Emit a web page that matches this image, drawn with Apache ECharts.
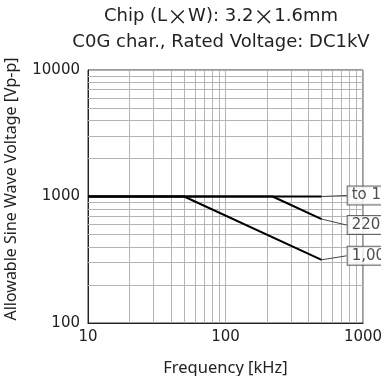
<!DOCTYPE html>
<html>
<head>
<meta charset="utf-8">
<script src="https://cdn.jsdelivr.net/npm/echarts@6/dist/echarts.min.js"></script>
<style>html,body{margin:0;padding:0;background:#fff}#c{width:381px;height:376px}</style>
</head>
<body>
<div id="c"></div>
<script>
// Data
const seriesNames = ['to 100pF', '220pF', '1,000pF'];
const s100pF = [[10, 1000], [500, 1000]];
const s220pF = [[10, 1000], [220, 1000], [500, 663]];
const s1000pF = [[10, 1000], [50, 1000], [500, 316]];
const labelShift = [-1, 6, -4];
const xMinorGrid = [20, 30, 40, 50, 60, 70, 80, 90, 200, 300, 400, 500, 600, 700, 800, 900];
const yMinorGrid = [200, 300, 400, 500, 600, 700, 800, 900, 2000, 3000, 4000, 5000, 6000, 7000, 8000, 9000];

const FONT = '"Noto Sans", sans-serif';
const WFONT = '"DejaVu Sans", sans-serif';
const CJK = '"Noto Sans CJK JP", sans-serif';
const gridColor = '#b4b4b4';
const allData = [s100pF, s220pF, s1000pF];

const series = allData.map((data, idx) => ({
  name: seriesNames[idx], type: 'line', data: data, symbol: 'none', showSymbol: false,
  lineStyle: { color: '#000', width: 2 }, z: 5, animation: false, silent: true
}));

// callout labels at the end of each curve
allData.forEach((data, idx) => {
  series.push({
    type: 'scatter', symbolSize: 0.1, z: 8, silent: true, animation: false,
    data: [data[data.length - 1]],
    label: {
      show: true, formatter: seriesNames[idx], position: 'right', distance: 0,
      fontFamily: WFONT, fontSize: 15, color: '#222',
      backgroundColor: '#fff', borderColor: '#444', borderWidth: 1,
      padding: [2, 4, 1, 4]
    },
    labelLayout: { dx: 26, dy: labelShift[idx] },
    labelLine: { show: true, lineStyle: { color: '#444', width: 1 } }
  });
});

series.push({
  type: 'line', data: [], silent: true, z: 1,
  markLine: {
    silent: true, symbol: 'none', animation: false,
    label: { show: false },
    lineStyle: { color: gridColor, width: 1, type: 'solid' },
    data: xMinorGrid.map(v => ({ xAxis: v })).concat(yMinorGrid.map(v => ({ yAxis: v })))
  }
});

const chart = echarts.init(document.getElementById('c'), null, { renderer: 'canvas' });
chart.setOption({
  animation: false,
  title: {
    text: 'Chip (L{x|×}W): 3.2{x|×}1.6mm\nC0G char., Rated Voltage: DC1kV',
    left: 216, textAlign: 'center', top: -2,
    textStyle: {
      fontFamily: WFONT, fontSize: 18, fontWeight: 'normal', color: '#222', lineHeight: 26,
      rich: { x: { fontFamily: CJK, fontSize: 21, color: '#222', lineHeight: 26 } }
    }
  },
  grid: { left: 88, right: 18, top: 70, bottom: 53, show: true, borderColor: '#333', borderWidth: 1,
          containLabel: false, outerBoundsMode: 'none' },
  xAxis: {
    type: 'log', logBase: 10, min: 10, max: 1000,
    name: 'Frequency [kHz]', nameLocation: 'middle', nameGap: 37,
    nameTextStyle: { fontFamily: FONT, fontSize: 16.5, color: '#222' },
    axisLine: { show: true, lineStyle: { color: '#222', width: 1 } },
    axisTick: { show: false },
    axisLabel: { fontFamily: WFONT, fontSize: 15, color: '#222', margin: 7, formatter: v => String(v) },
    splitLine: { show: true, lineStyle: { color: gridColor, width: 1 } },
    minorTick: { show: false }, minorSplitLine: { show: false }
  },
  yAxis: {
    type: 'log', logBase: 10, min: 100, max: 10000,
    name: 'Allowable Sine Wave Voltage [Vp-p]', nameLocation: 'middle', nameGap: 69,
    nameTextStyle: { fontFamily: FONT, fontSize: 16, color: '#222', padding: [0, 0, 0, 15] },
    axisLine: { show: true, lineStyle: { color: '#222', width: 1 } },
    axisTick: { show: false },
    axisLabel: { fontFamily: WFONT, fontSize: 15, color: '#222', margin: 8, formatter: v => String(v) },
    splitLine: { show: true, lineStyle: { color: gridColor, width: 1 } },
    minorTick: { show: false }, minorSplitLine: { show: false }
  },
  series: series
});
</script>
</body>
</html>
